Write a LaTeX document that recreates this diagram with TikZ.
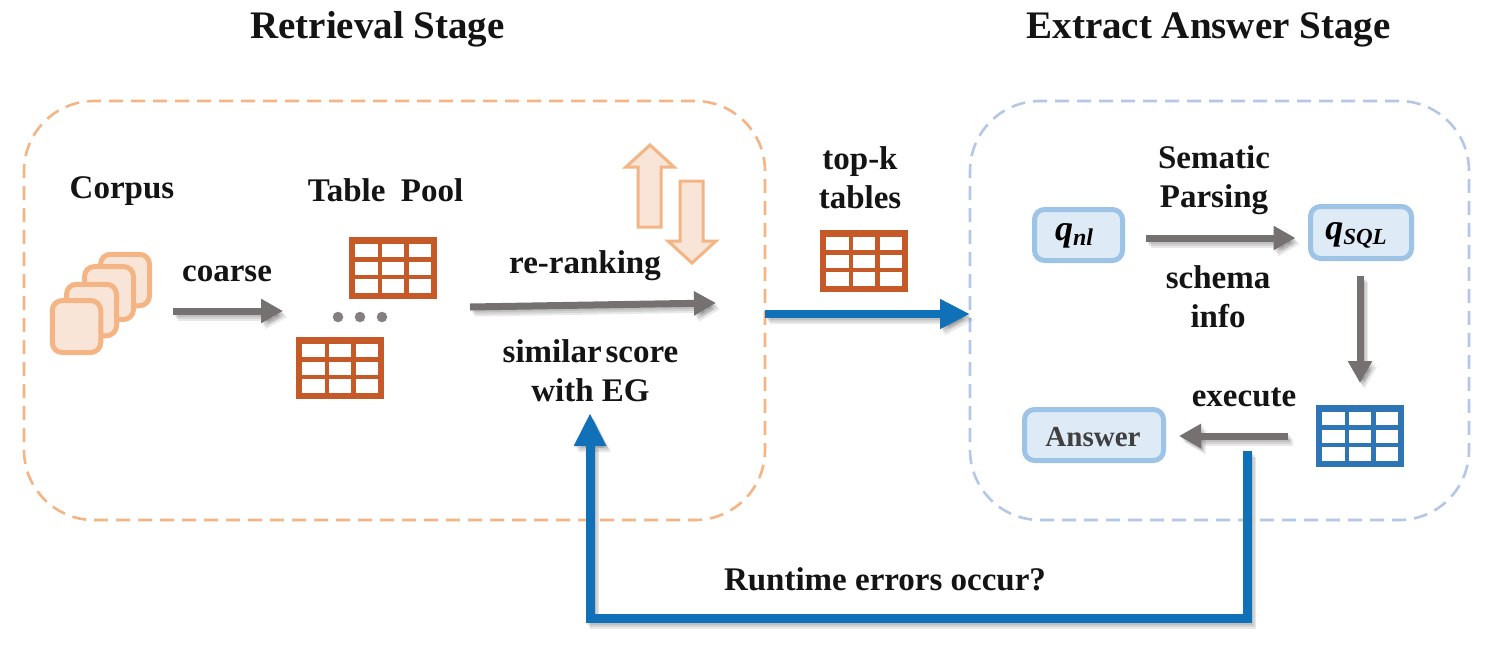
\documentclass[tikz,border=0pt]{standalone}
\usepackage{fontspec}
\setmainfont{Liberation Serif}
\usetikzlibrary{arrows.meta,calc}
\definecolor{orEdge}{HTML}{F4B483}
\definecolor{orFill}{HTML}{F8E5D8}
\definecolor{blEdge}{HTML}{9DC3E6}
\definecolor{blFill}{HTML}{DEEBF7}
\definecolor{dashBlue}{HTML}{B4C7E7}
\definecolor{tabOr}{HTML}{C55A28}
\definecolor{tabBl}{HTML}{2E75B6}
\definecolor{arrGray}{HTML}{767171}
\definecolor{arrBlue}{HTML}{1070B8}
\tikzset{
  x=1pt,y=-1pt,
  lab/.style={font=\fontsize{33}{39}\selectfont\bfseries,align=center,text=black!92,inner sep=0pt,outer sep=0pt},
  head/.style={font=\fontsize{39}{44}\selectfont\bfseries,text=black!92,inner sep=0pt,outer sep=0pt},
  stage/.style={draw=#1,dashed,dash pattern=on 14pt off 8pt,line width=2.6pt,fill=none,rounded corners=70pt,inner sep=0pt,outer sep=0pt},
  doc/.style={draw=orEdge,fill=orFill,line width=5pt,rounded corners=10pt,inner sep=0pt,outer sep=0pt},
  qbox/.style={draw=blEdge,fill=blFill,line width=5pt,rounded corners=10pt,inner sep=0pt,outer sep=0pt,font=\fontsize{33}{39}\selectfont\bfseries},
  grayarrow/.style={draw=arrGray,line width=7pt,-{Triangle[length=22pt,width=23pt]}},
  bluearrow/.style={draw=arrBlue,line width=8pt,-{Triangle[length=30pt,width=28pt]}},
  fbarrow/.style={draw=arrBlue,line width=9pt,line join=miter,-{Triangle[length=33pt,width=30pt]}},
  shadowlayer/.style={draw=black,opacity=.09},
  hollow/.style={draw=orEdge,fill=orFill,line width=3pt,line join=miter},
  dotmark/.style={circle,fill=arrGray!90,minimum size=10.5pt,inner sep=0pt},
  datatable/.pic={
    \node[fill=#1,minimum width=88pt,minimum height=62pt,inner sep=0pt,outer sep=0pt,anchor=north west] (-box) at (0,0) {};
    \foreach \cx/\cw in {6.3/22.7,33/22.3,59.7/21.8}
      \foreach \cy in {6.7,24.5,42.3}
        \fill[white] (\cx,\cy) rectangle ++(\cw,13.4);
  }
}
\newcommand{\shadowedarrow}[2]{%
  \begin{scope}[transform canvas={shift={(4.5pt,-6pt)}}]\draw[#1,shadowlayer] #2;\end{scope}
  \begin{scope}[transform canvas={shift={(3pt,-4pt)}}]\draw[#1,shadowlayer] #2;\end{scope}
  \begin{scope}[transform canvas={shift={(1.5pt,-2pt)}}]\draw[#1,shadowlayer] #2;\end{scope}
  \draw[#1] #2;}
\begin{document}
\begin{tikzpicture}
\useasboundingbox (0,0) rectangle (1495,656);
\fill[white] (0,0) rectangle (1495,656);

% stage frames
\node[stage=orEdge,minimum width=741pt,minimum height=419pt] (retr) at (394.5,310.5) {};
\node[stage=dashBlue,minimum width=499pt,minimum height=419pt] (extr) at (1219.5,310.5) {};

% titles
\node[head] (tretr) at (377.5,29.5) {Retrieval Stage};
\node[head] (textr) at (1208.5,29.5) {Extract Answer Stage};

% corpus
\node[doc,minimum width=49pt,minimum height=51.5pt] (c4) at (125,280) {};
\node[doc,minimum width=49pt,minimum height=53pt] (c3) at (109,293) {};
\node[doc,minimum width=50pt,minimum height=51.5pt] (c2) at (91.5,310) {};
\node[doc,minimum width=48.5pt,minimum height=52pt] (c1) at (76.5,326.5) {};
\node[lab] (corpus) at (122,191) {Corpus};
\node[lab] (pool) at (385.5,190) {Table\hspace{.22em} Pool};
\node[lab] (coarse) at (227,274) {coarse};

% tables
\pic (t1) at (349,237) {datatable=tabOr};
\pic (t2) at (296,337) {datatable=tabOr};
\pic (t3) at (820,230) {datatable=tabOr};
\pic (t4) at (1316,405) {datatable=tabBl};
\node[dotmark] (d1) at (338,317) {};
\node[dotmark] (d2) at (360,317) {};
\node[dotmark] (d3) at (382,317) {};

% re-ranking
\node[lab] (rerank) at (585,266) {re-ranking};
\node[lab] (sim) at (590.5,371) {similar\hspace{.12em}score\\with EG};
\coordinate (rrS) at (470,307);
\coordinate (rrE) at (716,303);
\coordinate (fbE) at (590,413);
\shadowedarrow{grayarrow}{(rrS) -- (rrE)}
\draw[hollow] (650,145) -- (674,167) -- (661,167) -- (661,227) -- (638,227) -- (638,167) -- (626,167) -- cycle;
\draw[hollow] (692,263) -- (716,241) -- (703,241) -- (703,181) -- (680,181) -- (680,241) -- (668,241) -- cycle;

\node[lab] (topk) at (860,178) {top-k\\tables};

% extract stage
\node[qbox,minimum width=88pt,minimum height=51pt] (qnl) at (1078.5,235) {};
\node[inner sep=0pt,font=\fontsize{36}{39}\selectfont\bfseries] (qnlt) at (1074,236) {\itshape q\raisebox{-5pt}{\fontsize{24}{28}\selectfont nl}};
\node[qbox,minimum width=101pt,minimum height=52pt] (qsql) at (1361,232.5) {};
\node[inner sep=0pt,font=\fontsize{36}{39}\selectfont\bfseries] (qsqlt) at (1356,235) {\itshape q\raisebox{-5pt}{\fontsize{23}{28}\selectfont SQL}};
\node[qbox,minimum width=139pt,minimum height=51pt] (ans) at (1094,435) {};
\node[inner sep=0pt,text=black!75,font=\fontsize{29}{34}\selectfont\bfseries] (anst) at (1093,437) {Answer};
\node[lab] (parse) at (1214,180) {Sematic\\Parsing};
\node[lab] (schema) at (1218,297) {schema\\info};
\node[lab] (exec) at (1244,397) {execute};
\node[lab] (runtime) at (885,579) {Runtime errors occur?};

% connectors
\shadowedarrow{grayarrow}{([shift={(23.5,5.25)}]c4.south east) -- ([shift={(-13,-26)}]t2-box.north west)}
\shadowedarrow{bluearrow}{([yshift=-3.5pt]retr.east) -- ([yshift=-3.5pt]extr.west)}
\shadowedarrow{grayarrow}{([shift={(23.5,3)}]qnl.east) -- ([shift={(-15,5.5)}]qsql.west)}
\shadowedarrow{grayarrow}{([shift={(-1,17)}]qsql.south) -- ([shift={(44,-22)}]t4-box.north west)}
\shadowedarrow{grayarrow}{([shift={(-28,31)}]t4-box.north west) -- ([shift={(15.5,1)}]ans.east)}
\shadowedarrow{fbarrow}{([shift={(-69,46)}]t4-box.north west) -- ++(0,167) -| (fbE)}
\end{tikzpicture}
\end{document}
